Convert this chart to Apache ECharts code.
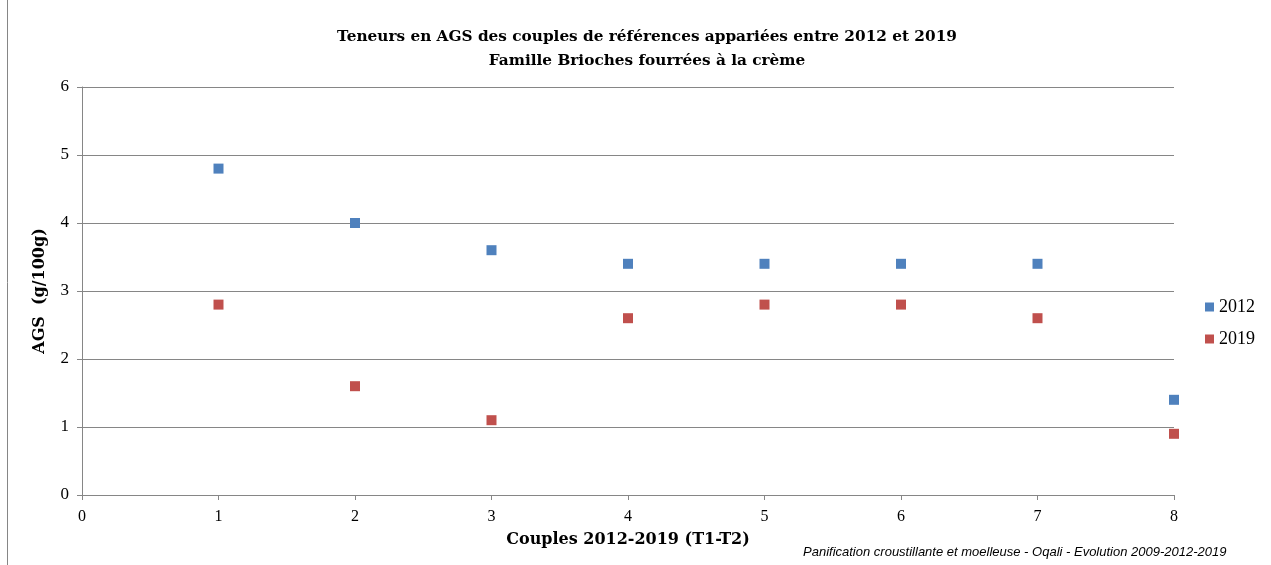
<!DOCTYPE html>
<html>
<head>
<meta charset="utf-8">
<script src="https://cdn.jsdelivr.net/npm/echarts@6/dist/echarts.min.js"></script>
<style>
  html, body { margin: 0; padding: 0; background: #fff; }
  #chart { width: 1271px; height: 565px; }
</style>
</head>
<body>
<div id="chart"></div>
<script>
// couples (T1-T2) et teneurs en AGS (g/100g)
var couples = [1, 2, 3, 4, 5, 6, 7, 8];
var ags2012 = [4.8, 4.0, 3.6, 3.4, 3.4, 3.4, 3.4, 1.4];
var ags2019 = [2.8, 1.6, 1.1, 2.6, 2.8, 2.8, 2.6, 0.9];

var serif = 'Liberation Serif';
var serifBold = 'DejaVu Serif';

function pairs(vals) {
  return couples.map(function (c, i) { return [c, vals[i]]; });
}

var chart = echarts.init(document.getElementById('chart'));

chart.setOption({
  animation: false,
  title: {
    text: 'Teneurs en AGS des couples de références appariées entre 2012 et 2019\nFamille Brioches fourrées à la crème',
    left: 642,
    textAlign: 'center',
    top: 20,
    textStyle: {
      fontFamily: serifBold,
      fontWeight: 'bold',
      fontSize: 15.3,
      lineHeight: 24,
      color: '#000'
    }
  },
  legend: {
    orient: 'vertical',
    left: 1200,
    top: 293,
    itemWidth: 9,
    itemHeight: 9,
    itemGap: 14,
    icon: 'rect',
    textStyle: { fontFamily: serif, fontSize: 18, color: '#000' },
    data: ['2012', '2019']
  },
  grid: {
    left: 82,
    right: 97,
    top: 87,
    bottom: 70,
    containLabel: false
  },
  xAxis: {
    type: 'value',
    min: 0,
    max: 8,
    interval: 1,
    name: 'Couples 2012-2019 (T1-T2)',
    nameLocation: 'middle',
    nameGap: 37,
    nameTextStyle: { fontFamily: serifBold, fontWeight: 'bold', fontSize: 16, color: '#000' },
    axisLine: { show: true, lineStyle: { color: '#868686', width: 1 } },
    axisTick: { show: true, length: 5, inside: false, lineStyle: { color: '#868686' } },
    axisLabel: { fontFamily: serif, fontSize: 16, color: '#000', margin: 14 },
    splitLine: { show: false }
  },
  yAxis: {
    type: 'value',
    min: 0,
    max: 6,
    interval: 1,
    name: 'AGS  (g/100g)',
    nameLocation: 'middle',
    nameGap: 34,
    nameRotate: 90,
    nameTextStyle: { fontFamily: serifBold, fontWeight: 'bold', fontSize: 16, color: '#000' },
    axisLine: { show: true, lineStyle: { color: '#868686', width: 1 } },
    axisTick: { show: true, length: 5, lineStyle: { color: '#868686' } },
    axisLabel: { fontFamily: serif, fontSize: 17, color: '#000', margin: 13 },
    splitLine: { show: true, lineStyle: { color: '#868686', width: 1 } }
  },
  graphic: [
    {
      type: 'line',
      shape: { x1: 7.5, y1: 0, x2: 7.5, y2: 565 },
      style: { stroke: '#868686', lineWidth: 1 }
    },
    {
      type: 'text',
      left: 803,
      top: 546,
      style: {
        text: 'Panification croustillante et moelleuse - Oqali - Evolution 2009-2012-2019',
        font: 'italic 13px "Liberation Sans Narrow", "Liberation Sans", sans-serif',
        fill: '#000'
      }
    }
  ],
  series: [
    {
      name: '2012',
      type: 'scatter',
      symbol: 'rect',
      symbolSize: 10,
      itemStyle: { color: '#4F81BD', opacity: 1 },
      data: pairs(ags2012)
    },
    {
      name: '2019',
      type: 'scatter',
      symbol: 'rect',
      symbolSize: 10,
      itemStyle: { color: '#C0504D', opacity: 1 },
      data: pairs(ags2019)
    }
  ]
});
</script>
</body>
</html>
